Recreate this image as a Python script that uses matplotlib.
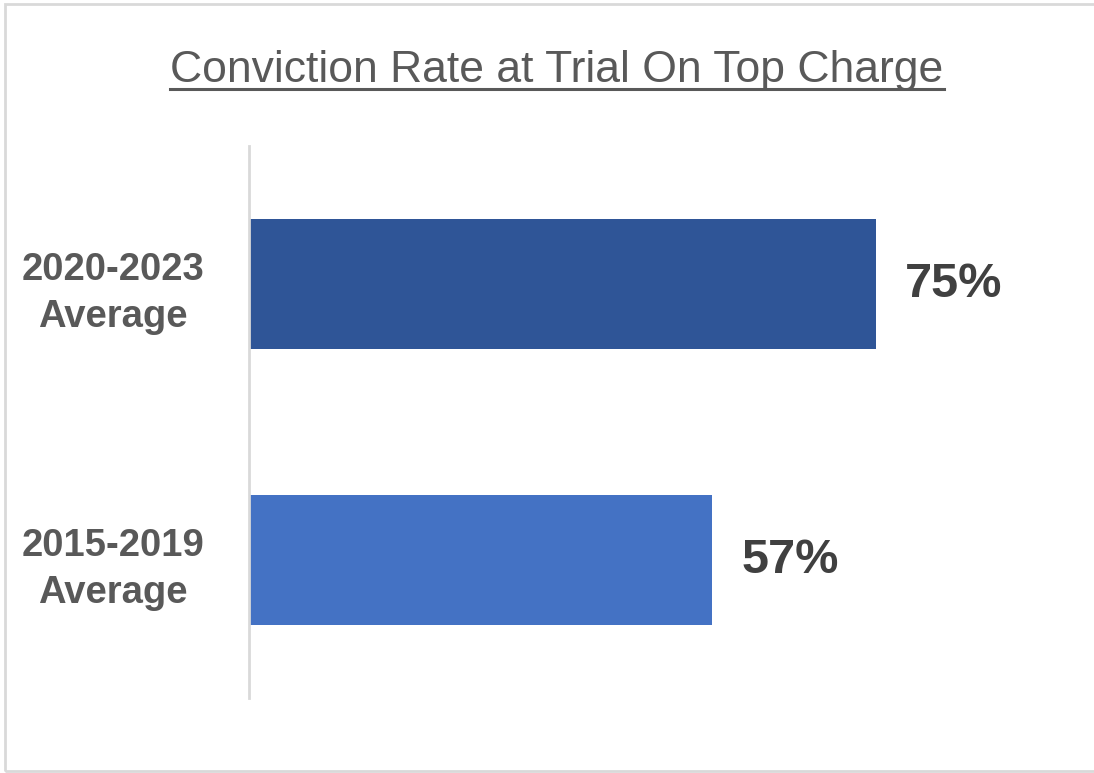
import matplotlib.pyplot as plt
from matplotlib.patches import Rectangle
from matplotlib.lines import Line2D

categories = ['2015-2019\nAverage', '2020-2023\nAverage']
rates = [57, 75]
bar_colors = ['#4472C4', '#2F5597']
title = 'Conviction Rate at Trial On Top Charge'

plt.rcParams['font.family'] = ['Liberation Sans', 'DejaVu Sans']

fig = plt.figure(figsize=(10.94, 7.73), dpi=100)
ax = fig.add_axes([0.2276, 0.097, 0.686, 0.714])

bars = ax.barh(range(len(rates)), rates, height=0.47, color=bar_colors)
ax.set_xlim(6, 88.6)
ax.set_ylim(-0.5, 1.5)

ax.set_yticks(range(len(categories)))
ax.set_yticklabels(categories, fontsize=27.5, fontweight='bold', color='#595959',
                   ha='center', multialignment='center', linespacing=1.4)
ax.tick_params(axis='y', length=0, pad=98)
ax.set_xticks([])

for side in ['top', 'right', 'bottom']:
    ax.spines[side].set_visible(False)
ax.spines['left'].set_color('#D9D9D9')
ax.spines['left'].set_linewidth(2)

ax.bar_label(bars, labels=[f'{v}%' for v in rates], padding=21,
             fontsize=35, fontweight='bold', color='#404040')

# outer chart border
fig.patches.append(Rectangle((5 / 1094, 2 / 773), 1.2, 767 / 773,
                             transform=fig.transFigure, fill=False,
                             edgecolor='#D9D9D9', linewidth=2, clip_on=False))

t = fig.text(557 / 1094, 1 - 82 / 773, title, ha='center', va='baseline',
             fontsize=32, color='#595959')

# underline the title
fig.canvas.draw()
bb = t.get_window_extent().transformed(fig.transFigure.inverted())
y_line = 1 - 89 / 773
fig.lines.append(Line2D([bb.x0, bb.x1], [y_line, y_line], transform=fig.transFigure,
                        color='#595959', linewidth=2.2))

fig.savefig('out.png', dpi=100)
